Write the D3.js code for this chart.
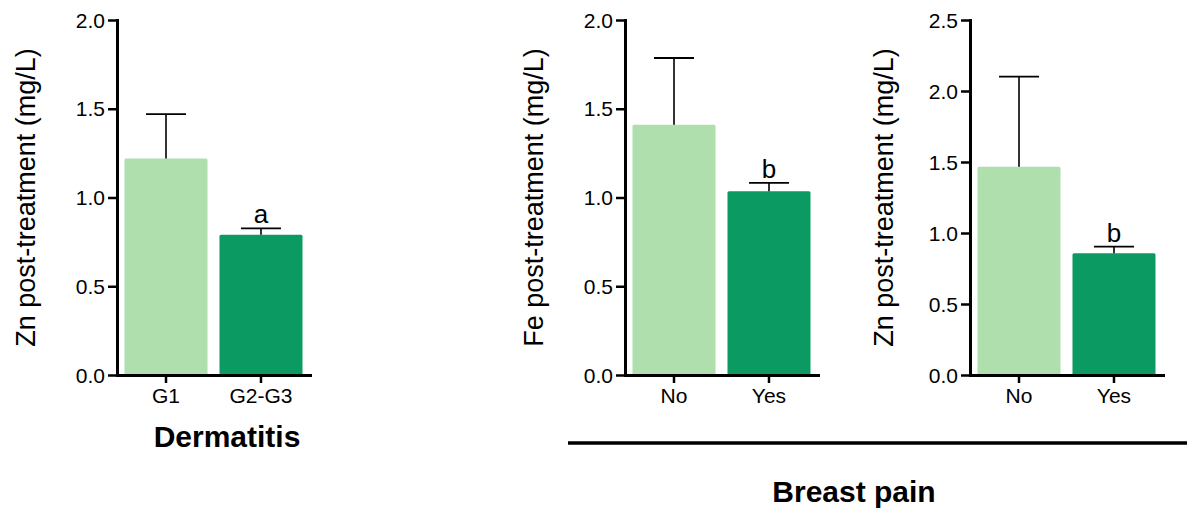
<!DOCTYPE html>
<html>
<head>
<meta charset="utf-8">
<script src="https://cdn.jsdelivr.net/npm/d3@7"></script>
<style>
  html, body { margin: 0; padding: 0; background: #fff; }
  svg { display: block; }
  text { font-family: "Liberation Sans", Arial, Helvetica, sans-serif; fill: #000; }
</style>
</head>
<body>
<svg id="chart" width="1187" height="508"></svg>
<script>
// Categories
const dermatitisGroups = ["G1", "G2-G3"];
const breastPainGroups = ["No", "Yes"];

// Zn post-treatment by dermatitis grade (mean, SEM)
const dermZnMean = [1.22, 0.79];
const dermZnSem  = [0.25, 0.036];
const dermZnSig  = ["", "a"];

// Fe post-treatment by breast pain (mean, SEM)
const painFeMean = [1.41, 1.035];
const painFeSem  = [0.376, 0.047];
const painFeSig  = ["", "b"];

// Zn post-treatment by breast pain (mean, SEM)
const painZnMean = [1.467, 0.857];
const painZnSem  = [0.634, 0.047];
const painZnSig  = ["", "b"];

// Y tick values
const yTicks20 = [0, 0.5, 1.0, 1.5, 2.0];
const yTicks25 = [0, 0.5, 1.0, 1.5, 2.0, 2.5];

// Bar fills (first group, second group)
const barColors = ["#aedfad", "#0c9a63"];

const svg = d3.select("#chart");

const plotTop = 20, plotBottom = 375, plotWidth = 193;

const panels = [
  { x0: 117, groups: dermatitisGroups, mean: dermZnMean, sem: dermZnSem, sig: dermZnSig,
    yMax: 2.0, ticks: yTicks20, title: "Zn post-treatment (mg/L)", titleX: 35 },
  { x0: 625, groups: breastPainGroups, mean: painFeMean, sem: painFeSem, sig: painFeSig,
    yMax: 2.0, ticks: yTicks20, title: "Fe post-treatment (mg/L)", titleX: 543 },
  { x0: 970, groups: breastPainGroups, mean: painZnMean, sem: painZnSem, sig: painZnSig,
    yMax: 2.5, ticks: yTicks25, title: "Zn post-treatment (mg/L)", titleX: 893 }
];

panels.forEach(p => {
  const x = d3.scaleBand()
    .domain(p.groups)
    .range([p.x0, p.x0 + plotWidth])
    .paddingInner(0.126)
    .paddingOuter(0.079);

  const y = d3.scaleLinear()
    .domain([0, p.yMax])
    .range([plotBottom, plotTop]);

  const g = svg.append("g");

  const rows = p.groups.map((k, i) => ({ k, i, m: p.mean[i], s: p.sem[i], sig: p.sig[i] }));

  // bars
  g.selectAll("rect.bar").data(rows).join("rect")
    .attr("class", "bar")
    .attr("x", d => x(d.k))
    .attr("y", d => y(d.m))
    .attr("width", x.bandwidth())
    .attr("height", d => y(0) - y(d.m))
    .attr("rx", 1.5)
    .attr("fill", d => barColors[d.i]);

  // upper error bars
  const cx = d => x(d.k) + x.bandwidth() / 2;
  g.selectAll("line.err").data(rows).join("line")
    .attr("class", "err")
    .attr("x1", cx).attr("x2", cx)
    .attr("y1", d => y(d.m)).attr("y2", d => y(d.m + d.s))
    .attr("stroke", "#000").attr("stroke-width", 1.6);
  g.selectAll("line.cap").data(rows).join("line")
    .attr("class", "cap")
    .attr("x1", d => cx(d) - 20).attr("x2", d => cx(d) + 20)
    .attr("y1", d => y(d.m + d.s)).attr("y2", d => y(d.m + d.s))
    .attr("stroke", "#000").attr("stroke-width", 1.8);

  // significance letters
  g.selectAll("text.sig").data(rows.filter(d => d.sig)).join("text")
    .attr("class", "sig")
    .attr("x", cx)
    .attr("y", d => y(d.m + d.s) - 5)
    .attr("text-anchor", "middle")
    .style("font-size", "26px")
    .text(d => d.sig);

  // y axis
  const yAxis = g.append("g")
    .attr("transform", `translate(${p.x0},0)`)
    .call(d3.axisLeft(y).tickValues(p.ticks).tickFormat(d3.format(".1f"))
      .tickSize(9).tickSizeOuter(0).tickPadding(3));
  yAxis.select(".domain").attr("stroke-width", 3).attr("stroke-linecap", "square");
  yAxis.selectAll(".tick line").attr("stroke-width", 2.5);
  yAxis.selectAll(".tick text").style("font-size", "21px").style("font-family", "Liberation Sans, Arial, sans-serif").attr("dy", "0.34em");

  // x axis
  const xAxis = g.append("g")
    .attr("transform", `translate(0,${plotBottom})`)
    .call(d3.axisBottom(x).tickSize(8).tickSizeOuter(0).tickPadding(5));
  xAxis.select(".domain").attr("stroke-width", 3).attr("stroke-linecap", "square");
  xAxis.selectAll(".tick line").attr("stroke-width", 2.5);
  xAxis.selectAll(".tick text").style("font-size", "21px").style("font-family", "Liberation Sans, Arial, sans-serif");

  // y title
  g.append("text")
    .attr("transform", `translate(${p.titleX},${(plotTop + plotBottom) / 2}) rotate(-90)`)
    .attr("text-anchor", "middle")
    .style("font-size", "27px")
    .text(p.title);
});

// group titles
svg.append("text")
  .attr("x", 227).attr("y", 447)
  .attr("text-anchor", "middle")
  .style("font-size", "30px").style("font-weight", "bold")
  .text("Dermatitis");

svg.append("line")
  .attr("x1", 568).attr("x2", 1187)
  .attr("y1", 443).attr("y2", 443)
  .attr("stroke", "#000").attr("stroke-width", 3.5);

svg.append("text")
  .attr("x", 854).attr("y", 502)
  .attr("text-anchor", "middle")
  .style("font-size", "30px").style("font-weight", "bold")
  .text("Breast pain");
</script>
</body>
</html>
